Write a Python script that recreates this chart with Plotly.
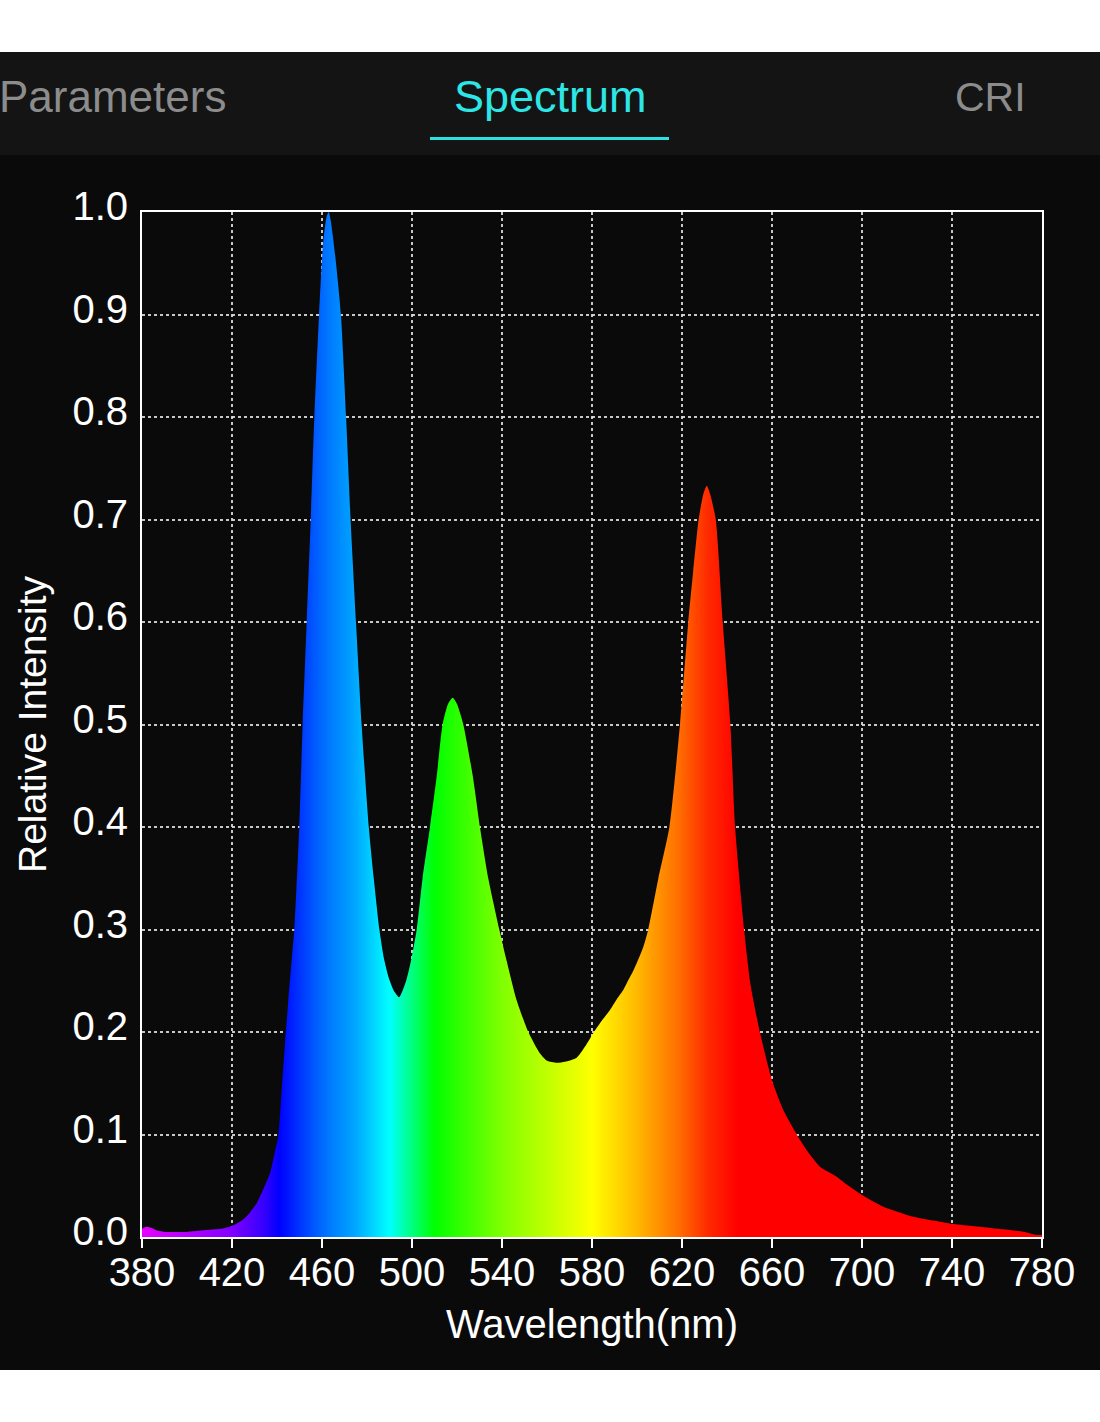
import plotly.graph_objects as go

# ---- data ----
wavelength = [380, 382, 384, 387, 390, 395, 400, 405, 410, 415, 419, 422, 425, 428, 431, 434, 437, 439,
              440.6, 442, 443.6, 445, 446.5, 447.7, 449.9, 451.4, 453.2, 455, 456.6, 458.7, 460.5, 462,
              463, 464, 466, 468.4, 470.7, 472.7, 475.1, 477.6, 480.8, 483, 485.5, 487.5, 489.8, 492,
              494.3, 497.4, 499.6, 502.1, 504.7, 508, 511, 513.6, 516, 518.1, 520, 522.8, 527, 530.2,
              533.9, 538.8, 542, 546.5, 551.7, 556.9, 560, 564.3, 568, 573.2, 577, 580.6, 584, 588, 591,
              593.9, 596, 598.4, 602.8, 605, 609.5, 614.4, 619.1, 622.8, 625, 627.4, 629.5, 631, 632.5,
              635, 638.1, 641.5, 643.6, 647.6, 650.2, 651.7, 654.7, 660, 665, 672.4, 677, 681.3, 688.7,
              694, 700, 709.5, 722.8, 734.7, 740.6, 750, 761.3, 771.7, 777.6, 780]
intensity = [0.008, 0.010, 0.009, 0.006, 0.005, 0.005, 0.005, 0.006, 0.007, 0.008, 0.010, 0.013, 0.017,
             0.024, 0.033, 0.047, 0.063, 0.082, 0.0985, 0.14, 0.19, 0.23, 0.27, 0.30, 0.40, 0.50, 0.60,
             0.70, 0.80, 0.90, 0.97, 0.995, 1.0, 0.99, 0.955, 0.90, 0.80, 0.70, 0.60, 0.50, 0.40, 0.35,
             0.30, 0.272, 0.252, 0.240, 0.234, 0.25, 0.27, 0.30, 0.35, 0.40, 0.45, 0.50, 0.52, 0.526,
             0.52, 0.50, 0.45, 0.40, 0.35, 0.30, 0.27, 0.231, 0.20, 0.179, 0.172, 0.170, 0.171, 0.175,
             0.186, 0.199, 0.21, 0.2215, 0.232, 0.241, 0.25, 0.26, 0.283, 0.30, 0.35, 0.40, 0.50, 0.60,
             0.65, 0.70, 0.725, 0.733, 0.725, 0.70, 0.60, 0.50, 0.40, 0.30, 0.25, 0.231, 0.199, 0.153,
             0.124, 0.095, 0.08, 0.0686, 0.0589, 0.05, 0.041, 0.0296, 0.0198, 0.015, 0.0127, 0.0105,
             0.0078, 0.0052, 0.002, 0.002]

x_ticks = [380, 420, 460, 500, 540, 580, 620, 660, 700, 740, 780]
y_ticks = [0.0, 0.1, 0.2, 0.3, 0.4, 0.5, 0.6, 0.7, 0.8, 0.9, 1.0]

# spectral colour stops (wavelength nm, colour)
color_nm = [380, 420, 435, 441, 455, 463, 475, 490, 510, 540, 580, 598, 618, 632, 645, 780]
color_hex = ["#e600ff", "#8000ff", "#3000ff", "#0000ff", "#0050ff", "#0078ff", "#00a8ff", "#00ffff",
             "#00ff00", "#80ff00", "#ffff00", "#ffc000", "#ff7000", "#ff2800", "#ff0000", "#ff0000"]

tabs = ["Parameters", "Spectrum", "CRI"]

# ---- figure ----
W, H = 1100, 1422
L, R, T, B = 142, 58, 212, 185
pw, ph = W - L - R, H - T - B


def px(X):
    return (X - L) / pw


def py(Y):
    return (H - B - Y) / ph


lo, hi = color_nm[0], color_nm[-1]
colorscale = [[(n - lo) / (hi - lo), c] for n, c in zip(color_nm, color_hex)]

fig = go.Figure()
fig.add_trace(go.Scatter(
    x=wavelength, y=intensity, mode="lines",
    line=dict(width=0, color="rgba(0,0,0,0)", shape="spline", smoothing=0.6),
    fill="tozeroy",
    fillgradient=dict(type="horizontal", colorscale=colorscale, start=lo, stop=hi),
    hoverinfo="skip", showlegend=False,
))

font = "Liberation Sans, Arial, sans-serif"

fig.update_layout(
    width=W, height=H,
    margin=dict(l=L, r=R, t=T, b=B, pad=0),
    paper_bgcolor="white",
    plot_bgcolor="#0a0a0a",
    font=dict(family=font, color="white", size=40),
    xaxis=dict(
        range=[380, 780], tickvals=x_ticks, ticktext=[str(v) for v in x_ticks],
        showgrid=True, gridcolor="rgba(220,220,220,0.9)", griddash="dot", gridwidth=1.5,
        showline=True, linecolor="white", linewidth=2, mirror=True,
        ticks="outside", ticklen=9, tickwidth=2, tickcolor="white",
        ticklabelstandoff=-10,
        tickfont=dict(size=40, color="white"),
        title=dict(text="Wavelength(nm)", font=dict(size=40, color="white"), standoff=17),
        zeroline=False, fixedrange=True,
    ),
    yaxis=dict(
        range=[0, 1.0], tickvals=y_ticks, ticktext=[f"{v:.1f}" for v in y_ticks],
        showgrid=True, gridcolor="rgba(220,220,220,0.9)", griddash="dot", gridwidth=1.5,
        showline=True, linecolor="white", linewidth=2, mirror=True,
        ticks="", ticklabelstandoff=4, ticklabelshift=-6,
        tickfont=dict(size=40, color="white"),
        title=dict(text="Relative Intensity", font=dict(size=39, color="white"), standoff=14),
        zeroline=False, fixedrange=True,
    ),
)

shapes = [
    # dark body
    dict(type="rect", xref="paper", yref="paper", x0=px(0), x1=px(W), y0=py(1370), y1=py(155),
         fillcolor="#0a0a0a", line=dict(width=0), layer="below"),
    # header bar
    dict(type="rect", xref="paper", yref="paper", x0=px(0), x1=px(W), y0=py(155), y1=py(52),
         fillcolor="#141414", line=dict(width=0), layer="below"),
    # active tab underline
    dict(type="rect", xref="paper", yref="paper", x0=px(430), x1=px(669), y0=py(140), y1=py(137),
         fillcolor="#2ee0e0", line=dict(width=0), layer="above"),
]
fig.update_layout(shapes=shapes)

annotations = [
    dict(text=tabs[0], x=px(-3), xanchor="left", y=py(97), yanchor="middle",
         font=dict(size=44, color="#8c8c8c", family=font)),
    dict(text=tabs[1], x=px(550), xanchor="center", y=py(97), yanchor="middle",
         font=dict(size=45, color="#2ee6e6", family=font)),
    dict(text=tabs[2], x=px(990), xanchor="center", y=py(97), yanchor="middle",
         font=dict(size=41, color="#8c8c8c", family=font)),
]
for a in annotations:
    a.update(xref="paper", yref="paper", showarrow=False)
fig.update_layout(annotations=annotations)

fig.write_html(
    "out.html",
    config={"displayModeBar": False},
    post_script="document.body.style.margin='0px';document.body.style.overflow='hidden';",
)
